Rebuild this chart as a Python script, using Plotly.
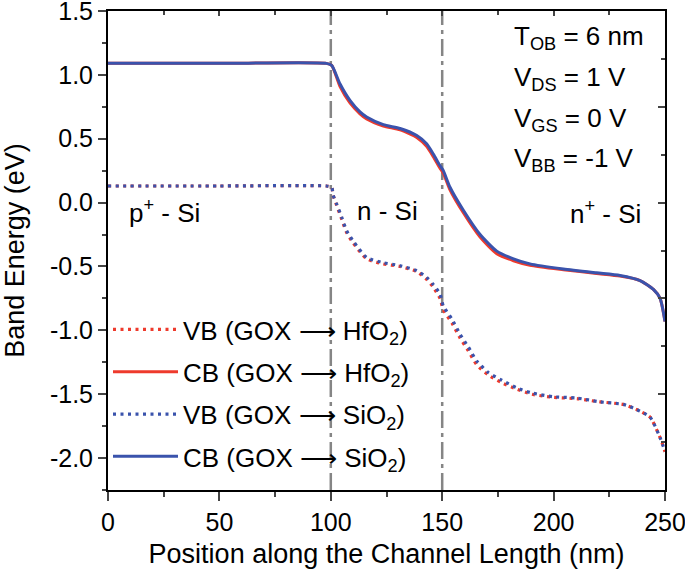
import plotly.graph_objects as go

# ---------------- data ----------------
x_cb = [0, 50, 98, 100.4, 104.1, 108.6, 113.1, 116.1, 123.6, 131.1, 138.6, 143.0, 146.0, 149.0, 150.5,
        153.5, 159.5, 167.0, 174.5, 182.0, 189.4, 204.4, 219.3, 229.8, 238.8, 244.8, 247.8, 250]
cb_sio2 = [1.09, 1.09, 1.09, 1.074, 0.93, 0.80, 0.71, 0.67, 0.61, 0.58, 0.525, 0.46, 0.38, 0.29, 0.25,
           0.12, -0.06, -0.25, -0.38, -0.44, -0.48, -0.52, -0.55, -0.57, -0.61, -0.68, -0.75, -0.93]
cb_hfo2 = [1.09, 1.09, 1.09, 1.074, 0.91, 0.78, 0.695, 0.655, 0.60, 0.57, 0.51, 0.44, 0.36, 0.27, 0.23,
           0.10, -0.08, -0.27, -0.40, -0.455, -0.49, -0.525, -0.555, -0.575, -0.61, -0.68, -0.75, -0.93]

x_vb = [0, 50, 98, 100.4, 101.0, 102.6, 104.9, 107.1, 110.0, 116.1, 123.4, 131.1, 138.6, 143.0, 145.9, 149.0,
        150.5, 154.3, 158.0, 161.7, 165.5, 170.7, 176.7, 183.4, 190.2, 199.9, 210.4, 220.8, 231.3, 237.3,
        243.3, 247.8, 250]
vb_sio2 = [0.13, 0.13, 0.13, 0.12, 0.06, -0.01, -0.115, -0.22, -0.30, -0.43, -0.47, -0.494, -0.533, -0.585,
           -0.64, -0.715, -0.81, -0.91, -1.03, -1.13, -1.24, -1.33, -1.39, -1.45, -1.49, -1.52, -1.53, -1.56,
           -1.58, -1.62, -1.68, -1.84, -1.95]
vb_hfo2 = [0.13, 0.13, 0.13, 0.12, 0.06, -0.02, -0.13, -0.235, -0.315, -0.44, -0.48, -0.50, -0.54, -0.60,
           -0.66, -0.75, -0.84, -0.94, -1.06, -1.16, -1.27, -1.35, -1.41, -1.46, -1.50, -1.525, -1.535, -1.56,
           -1.58, -1.62, -1.68, -1.84, -1.95]

boundaries = [100, 150]
x_ticks = [0, 50, 100, 150, 200, 250]
y_ticks = [-2.0, -1.5, -1.0, -0.5, 0.0, 0.5, 1.0, 1.5]
y_ticktext = ["-2.0", "-1.5", "-1.0", "-0.5", "0.0", "0.5", "1.0", "1.5"]
legend_names = ["VB (GOX ⟶ HfO<sub>2</sub>)", "CB (GOX ⟶ HfO<sub>2</sub>)",
                "VB (GOX ⟶ SiO<sub>2</sub>)", "CB (GOX ⟶ SiO<sub>2</sub>)"]
params = ["T<sub>OB</sub> = 6 nm", "V<sub>DS</sub> = 1 V", "V<sub>GS</sub> = 0 V", "V<sub>BB</sub> = -1 V"]
regions = ["p<sup>+</sup> - Si", "n - Si", "n<sup>+</sup> - Si"]

RED = "#EE3A2C"
BLUE = "#3A53AC"
FONT = "Liberation Sans"

fig = go.Figure()
dot = "3px,4.5px"
fig.add_trace(go.Scatter(x=x_vb, y=vb_hfo2, mode="lines", name=legend_names[0], legendgroup="a",
                         line=dict(color=RED, width=3.2, dash=dot, shape="spline", smoothing=0.6)))
fig.add_trace(go.Scatter(x=x_cb, y=cb_hfo2, mode="lines", name=legend_names[1], legendgroup="b",
                         line=dict(color=RED, width=3, shape="spline", smoothing=0.6)))
fig.add_trace(go.Scatter(x=x_vb, y=vb_sio2, mode="lines", name=legend_names[2], legendgroup="c",
                         line=dict(color=BLUE, width=3.2, dash=dot, shape="spline", smoothing=0.6)))
fig.add_trace(go.Scatter(x=x_cb, y=cb_sio2, mode="lines", name=legend_names[3], legendgroup="d",
                         line=dict(color=BLUE, width=3, shape="spline", smoothing=0.6)))

for b in boundaries:
    fig.add_vline(x=b, line=dict(color="#858585", width=2.5, dash="17px,5px,4px,5px"), layer="below")

# secondary axes for inward ticks on top / right
fig.add_trace(go.Scatter(x=[None], y=[None], xaxis="x2", yaxis="y2", showlegend=False, hoverinfo="skip"))

fig.update_layout(
    width=685, height=578,
    margin=dict(l=108, r=20, t=11, b=88, autoexpand=False),
    paper_bgcolor="white", plot_bgcolor="white",
    font=dict(family=FONT, size=25, color="black"),
    showlegend=True,
    legend=dict(x=0.0, y=0.384, xanchor="left", yanchor="top", bgcolor="rgba(0,0,0,0)",
                font=dict(size=26), tracegroupgap=5.5, itemwidth=65),
    xaxis=dict(range=[0, 250], tickvals=x_ticks, ticks="outside", ticklen=9, tickwidth=2,
               showline=True, linewidth=2, linecolor="black", showgrid=False, zeroline=False,
               automargin=False, ticklabeloverflow="allow",
               minor=dict(tickvals=[25, 75, 125, 175, 225], ticks="outside", ticklen=5, tickwidth=2),
               title=dict(text="Position along the Channel Length (nm)", font=dict(size=27), standoff=9),
               tickfont=dict(size=25)),
    yaxis=dict(range=[-2.25, 1.5], tickvals=y_ticks, ticktext=y_ticktext,
               ticks="outside", ticklen=8, tickwidth=2, automargin=False, ticklabeloverflow="allow",
               showline=True, linewidth=2, linecolor="black", showgrid=False, zeroline=False,
               minor=dict(tickvals=[-2.25, -1.75, -1.25, -0.75, -0.25, 0.25, 0.75, 1.25], ticks="outside",
                          ticklen=4, tickwidth=2),
               title=dict(text="Band Energy (eV)", font=dict(size=27), standoff=20),
               tickfont=dict(size=25)),
    xaxis2=dict(overlaying="x", side="top", range=[0, 250], tickvals=x_ticks, automargin=False,
                ticks="inside", ticklen=5, tickwidth=2, showticklabels=False, showline=True, linewidth=2,
                linecolor="black", showgrid=False, zeroline=False,
                minor=dict(tickvals=[25, 75, 125, 175, 225], ticks="inside", ticklen=4, tickwidth=2)),
    yaxis2=dict(overlaying="y", side="right", range=[0, 5], tickvals=[0, 1, 2, 3, 4, 5], automargin=False,
                ticks="inside", ticklen=7, tickwidth=2, showticklabels=False, showline=True, linewidth=2,
                linecolor="black", showgrid=False, zeroline=False,
                minor=dict(tickvals=[0.5, 1.5, 2.5, 3.5, 4.5], ticks="inside", ticklen=4, tickwidth=2)),
)

# parameter annotations (top right, left aligned)
param_y = [1.289, 0.968, 0.654, 0.341]
for txt, yy in zip(params, param_y):
    fig.add_annotation(x=181.5, y=yy, text=txt, showarrow=False,
                       xanchor="left", yanchor="middle", font=dict(size=26))
fig.add_annotation(x=8.5, y=-0.066, text=regions[0], showarrow=False, xanchor="left", yanchor="middle",
                   font=dict(size=26))
fig.add_annotation(x=125.4, y=-0.066, text=regions[1], showarrow=False, xanchor="center", yanchor="middle",
                   font=dict(size=26))
fig.add_annotation(x=240, y=-0.081, text=regions[2], showarrow=False, xanchor="right", yanchor="middle",
                   font=dict(size=26))

# remove the browser's default 8px body margin so the figure sits at the window origin
fig.write_html("out.html", config={"displayModeBar": False},
               post_script="document.body.style.margin='0px'; document.body.style.overflow='hidden';")
